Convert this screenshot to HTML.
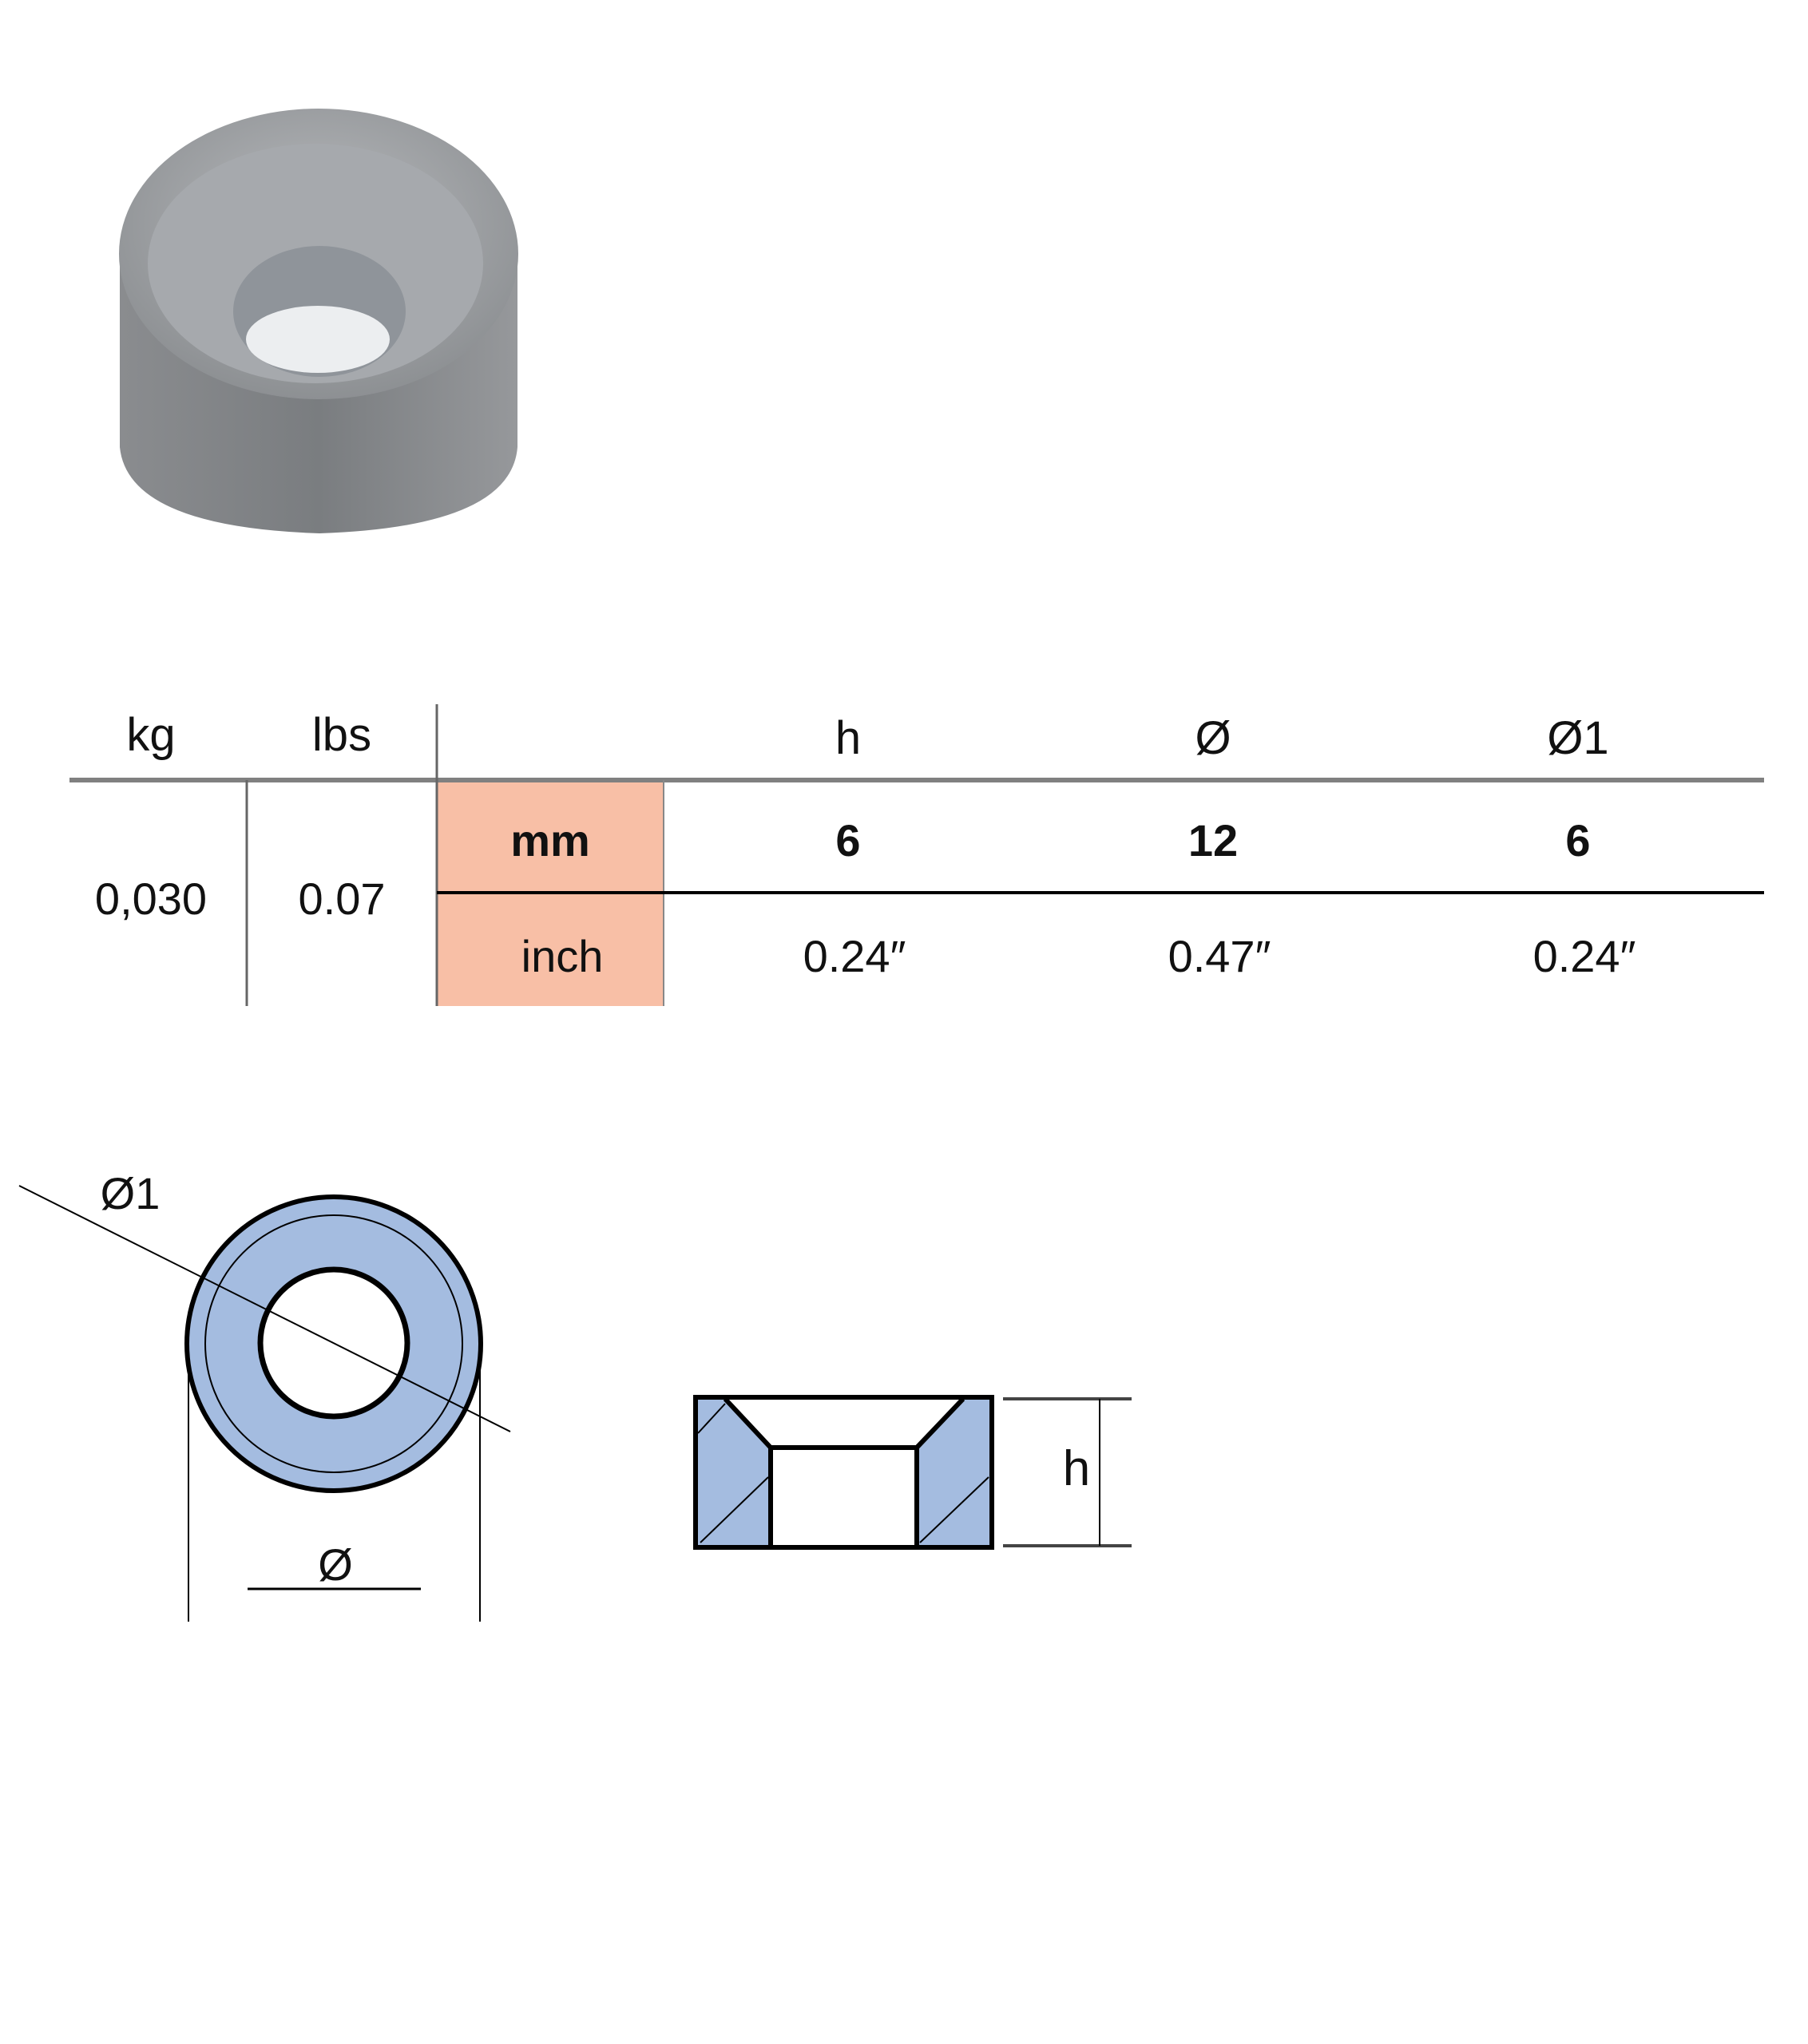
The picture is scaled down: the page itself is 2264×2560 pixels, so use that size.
<!DOCTYPE html>
<html><head><meta charset="utf-8"><style>
html,body{margin:0;padding:0;background:#fff}
body{width:2264px;height:2560px;position:relative;overflow:hidden}
svg{position:absolute;left:0;top:0}
</style></head><body>
<svg width="2264" height="2560" viewBox="0 0 2264 2560" xmlns="http://www.w3.org/2000/svg" font-family="Liberation Sans, sans-serif">
<defs>
<radialGradient id="g1" cx="0.5" cy="0.4" r="0.6">
<stop offset="0" stop-color="#b8babd"/><stop offset="1" stop-color="#8d9093"/>
</radialGradient>
<linearGradient id="g2" x1="0" y1="0" x2="1" y2="0">
<stop offset="0" stop-color="#8a8c8f"/><stop offset="0.5" stop-color="#7a7d80"/><stop offset="1" stop-color="#96989b"/>
</linearGradient>
</defs>
<!-- photo -->
<path d="M150 310 L150 560 Q160 660 400 668 Q640 660 648 560 L648 310 Z" fill="url(#g2)"/>
<ellipse cx="399" cy="318" rx="250" ry="182" fill="url(#g1)"/>
<ellipse cx="395" cy="330" rx="210" ry="150" fill="#a6a9ad"/>
<ellipse cx="400" cy="390" rx="108" ry="82" fill="#8f949a"/>
<ellipse cx="398" cy="425" rx="90" ry="42" fill="#eceef0"/>
<!-- table -->
<g font-size="58" text-anchor="middle" fill="#111">
<text x="189" y="940">kg</text>
<text x="428" y="940">lbs</text>
<text x="1062" y="944">h</text>
<text x="1519" y="944">Ø</text>
<text x="1976" y="944">Ø1</text>
</g>
<rect x="547" y="977" width="284" height="283" fill="#f8bfa6"/>
<line x1="87" y1="977" x2="2209" y2="977" stroke="#808080" stroke-width="6"/>
<line x1="547" y1="882" x2="547" y2="1260" stroke="#666" stroke-width="3"/>
<line x1="309" y1="977" x2="309" y2="1260" stroke="#666" stroke-width="3"/>
<line x1="831" y1="977" x2="831" y2="1260" stroke="#888" stroke-width="2"/>
<line x1="547" y1="1118" x2="2209" y2="1118" stroke="#000" stroke-width="4"/>
<g font-size="56" text-anchor="middle" fill="#111" font-weight="bold">
<text x="689" y="1072">mm</text>
<text x="1062" y="1072">6</text>
<text x="1519" y="1072">12</text>
<text x="1976" y="1072">6</text>
</g>
<g font-size="56" text-anchor="middle" fill="#111">
<text x="704" y="1217">inch</text>
<text x="1070" y="1217">0.24″</text>
<text x="1527" y="1217">0.47″</text>
<text x="1984" y="1217">0.24″</text>
<text x="189" y="1145">0,030</text>
<text x="428" y="1145">0.07</text>
</g>
<!-- ring front view -->
<circle cx="418" cy="1683" r="184" fill="#a4bce0" stroke="#000" stroke-width="6"/>
<circle cx="418" cy="1683" r="161" fill="none" stroke="#000" stroke-width="2"/>
<circle cx="418" cy="1682" r="92" fill="#fff" stroke="#000" stroke-width="7"/>
<line x1="24" y1="1485" x2="639" y2="1793" stroke="#000" stroke-width="2"/>
<text x="163" y="1514" font-size="56" text-anchor="middle" fill="#111">Ø1</text>
<line x1="236" y1="1714" x2="236" y2="2031" stroke="#000" stroke-width="2"/>
<line x1="601" y1="1714" x2="601" y2="2031" stroke="#000" stroke-width="2"/>
<text x="420" y="1979" font-size="56" text-anchor="middle" fill="#111">Ø</text>
<line x1="310" y1="1990" x2="527" y2="1990" stroke="#000" stroke-width="3"/>
<!-- cross section -->
<polygon points="871,1750 908,1750 965,1813 965,1938 871,1938" fill="#a4bce0"/>
<polygon points="1206,1750 1242,1750 1242,1938 1148,1938 1148,1813" fill="#a4bce0"/>
<g stroke="#000" stroke-width="2">
<line x1="874" y1="1795" x2="908" y2="1758"/>
<line x1="877" y1="1932" x2="962" y2="1850"/>
<line x1="1152" y1="1932" x2="1238" y2="1850"/>
</g>
<g stroke="#000" stroke-width="6" fill="none" stroke-linejoin="miter">
<rect x="871" y="1750" width="371" height="188"/>
<polyline points="908,1752 965,1813 1148,1813 1206,1752"/>
<line x1="965" y1="1813" x2="965" y2="1938"/>
<line x1="1148" y1="1813" x2="1148" y2="1938"/>
</g>
<line x1="1256" y1="1752" x2="1417" y2="1752" stroke="#444" stroke-width="4"/>
<line x1="1256" y1="1936" x2="1417" y2="1936" stroke="#444" stroke-width="4"/>
<line x1="1377" y1="1752" x2="1377" y2="1936" stroke="#000" stroke-width="2"/>
<text x="1348" y="1860" font-size="62" text-anchor="middle" fill="#111">h</text>
</svg>
</body></html>
